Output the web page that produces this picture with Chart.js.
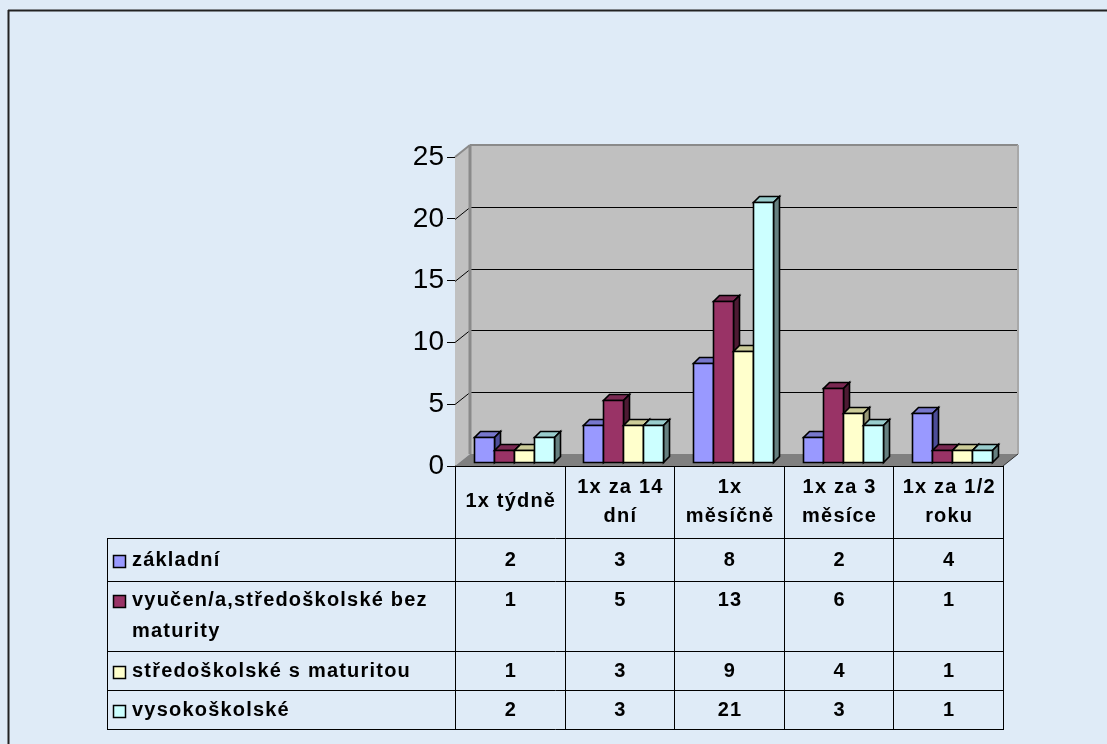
<!DOCTYPE html>
<html>
<head>
<meta charset="utf-8">
<script src="https://cdn.jsdelivr.net/npm/chart.js@4.4.1/dist/chart.umd.min.js"></script>
<style>
  html, body { margin: 0; padding: 0; background: #dfebf7; }
  #wrap { width: 1107px; height: 744px; }
</style>
</head>
<body>
<div id="wrap"><canvas id="chart" width="1107" height="744"></canvas></div>
<script>
// Data
const categories = [['1x týdně'], ['1x za 14', 'dní'], ['1x', 'měsíčně'], ['1x za 3', 'měsíce'], ['1x za 1/2', 'roku']];
const seriesNames = [['základní'], ['vyučen/a,středoškolské bez', 'maturity'], ['středoškolské s maturitou'], ['vysokoškolské']];
const zakladni = [2, 3, 8, 2, 4];
const vyucen = [1, 5, 13, 6, 1];
const stredoskolske = [1, 3, 9, 4, 1];
const vysokoskolske = [2, 3, 21, 3, 1];
const yTicks = [0, 5, 10, 15, 20, 25];

// Colours: front, top, side
const faceColors = [
  ['#9999ff', '#7777cc', '#4d4d99'],
  ['#993366', '#7a2952', '#4d1a33'],
  ['#ffffcc', '#cccc99', '#999977'],
  ['#ccffff', '#99cccc', '#668080']
];

// 3D offsets
const WALL_DX = 15, WALL_DY = -12;   // back wall
const BAR_DX = 4, BAR_DY = -4;       // plane where bars stand
const DEPTH_DX = 6, DEPTH_DY = -6;   // bar depth

// Table rows (top, bottom, first text line y)
const TABLE_LEFT = 107;
const headerBottom = 538;
const rows = [
  { top: 538, bottom: 581, y: 560 },
  { top: 581, bottom: 651, y: 600 },
  { top: 651, bottom: 690, y: 671 },
  { top: 690, bottom: 729, y: 710 }
];
const TABLE_FONT = 'bold 20px "Liberation Sans", Arial, sans-serif';

function poly(ctx, pts, fill, stroke) {
  ctx.beginPath();
  ctx.moveTo(pts[0][0], pts[0][1]);
  for (let i = 1; i < pts.length; i++) ctx.lineTo(pts[i][0], pts[i][1]);
  ctx.closePath();
  if (fill) { ctx.fillStyle = fill; ctx.fill(); }
  if (stroke) { ctx.strokeStyle = stroke; ctx.stroke(); }
}

function line(ctx, x1, y1, x2, y2, color, width) {
  ctx.beginPath();
  ctx.moveTo(x1, y1);
  ctx.lineTo(x2, y2);
  ctx.strokeStyle = color;
  ctx.lineWidth = width || 1;
  ctx.stroke();
}

const threeD = {
  id: 'threeD',
  beforeDraw(chart) {
    const ctx = chart.ctx;
    ctx.save();
    ctx.fillStyle = '#dfebf7';
    ctx.fillRect(0, 0, chart.width, chart.height);
    // outer frame
    line(ctx, 8.5, 10, 8.5, chart.height, '#222', 2);
    line(ctx, 8, 10.5, chart.width, 10.5, '#222', 2);
    ctx.restore();
  },
  beforeDatasetsDraw(chart) {
    const ctx = chart.ctx;
    const a = chart.chartArea;
    const yScale = chart.scales.y;
    const L = a.left, R = a.right, T = a.top, B = a.bottom;
    ctx.save();
    ctx.lineWidth = 1;
    // side wall
    poly(ctx, [[L, T], [L + WALL_DX, T + WALL_DY], [L + WALL_DX, B + WALL_DY], [L, B]], '#c0c0c0');
    // back wall
    poly(ctx, [[L + WALL_DX, T + WALL_DY], [R + WALL_DX, T + WALL_DY], [R + WALL_DX, B + WALL_DY], [L + WALL_DX, B + WALL_DY]], '#c0c0c0');
    // grid lines
    yTicks.forEach(v => {
      if (v === 0 || v === yTicks[yTicks.length - 1]) return;
      const y = Math.round(yScale.getPixelForValue(v)) + 0.5;
      ctx.beginPath();
      ctx.moveTo(L, y);
      ctx.lineTo(L + WALL_DX, y + WALL_DY);
      ctx.lineTo(R + WALL_DX, y + WALL_DY);
      ctx.strokeStyle = '#000';
      ctx.lineWidth = 1;
      ctx.stroke();
    });
    // wall edges
    line(ctx, L, T, L + WALL_DX, T + WALL_DY, '#8a8a8a', 2);
    line(ctx, L + WALL_DX, T + WALL_DY, R + WALL_DX, T + WALL_DY, '#8a8a8a', 2);
    line(ctx, L + WALL_DX, T + WALL_DY, L + WALL_DX, B + WALL_DY, '#8a8a8a', 3);
    line(ctx, R + WALL_DX, T + WALL_DY, R + WALL_DX, B + WALL_DY, '#a8a8a8', 2);
    // floor
    poly(ctx, [[L, B], [R, B], [R + WALL_DX, B + WALL_DY], [L + WALL_DX, B + WALL_DY]], '#808080');
    line(ctx, R, B, R + WALL_DX, B + WALL_DY, '#333', 1);
    line(ctx, L, B + 0.5, R, B + 0.5, '#000', 1);
    ctx.restore();
  },
  afterDatasetsDraw(chart) {
    const ctx = chart.ctx;
    ctx.save();
    ctx.lineWidth = 1.6;
    ctx.lineJoin = 'miter';
    chart.data.datasets.forEach((ds, i) => {
      const meta = chart.getDatasetMeta(i);
      const c = faceColors[i];
      meta.data.forEach(bar => {
        const p = bar.getProps(['x', 'y', 'base', 'width'], true);
        const l = Math.round(p.x - p.width / 2 + BAR_DX) + 0.5;
        const r = Math.round(p.x + p.width / 2 + BAR_DX) + 0.5;
        const t = Math.round(p.y + BAR_DY) + 0.5;
        const b = Math.round(p.base + BAR_DY) + 0.5;
        // top
        poly(ctx, [[l, t], [r, t], [r + DEPTH_DX, t + DEPTH_DY], [l + DEPTH_DX, t + DEPTH_DY]], c[1], '#000');
        // side
        poly(ctx, [[r, t], [r + DEPTH_DX, t + DEPTH_DY], [r + DEPTH_DX, b + DEPTH_DY], [r, b]], c[2], '#000');
        // front
        poly(ctx, [[l, t], [r, t], [r, b], [l, b]], c[0], '#000');
      });
    });
    ctx.restore();
  },
  afterDraw(chart) {
    const ctx = chart.ctx;
    const a = chart.chartArea;
    const xScale = chart.scales.x;
    const L = a.left, R = a.right, B = a.bottom;
    const colW = (R - L) / categories.length;
    const last = rows[rows.length - 1].bottom;
    ctx.save();
    // grid of the data table
    line(ctx, L + 0.5, B, L + 0.5, last, '#000', 1);
    for (let i = 1; i <= categories.length; i++) {
      const x = Math.round(L + colW * i) + 0.5;
      line(ctx, x, B, x, last, '#000', 1);
    }
    rows.forEach(row => line(ctx, TABLE_LEFT, row.top + 0.5, R + 1, row.top + 0.5, '#000', 1));
    line(ctx, TABLE_LEFT, last + 0.5, R + 1, last + 0.5, '#000', 1);
    line(ctx, TABLE_LEFT + 0.5, headerBottom, TABLE_LEFT + 0.5, last, '#000', 1);

    ctx.font = TABLE_FONT;
    ctx.letterSpacing = '1.2px';
    ctx.fillStyle = '#000';
    ctx.textBaseline = 'middle';
    // header
    ctx.textAlign = 'center';
    categories.forEach((lines, i) => {
      const cx = xScale.getPixelForValue(i) + 1;
      if (lines.length === 1) {
        ctx.fillText(lines[0], cx, 501);
      } else {
        ctx.fillText(lines[0], cx, 487);
        ctx.fillText(lines[1], cx, 516);
      }
    });
    // rows
    chart.data.datasets.forEach((ds, i) => {
      const row = rows[i];
      // legend key
      ctx.fillStyle = faceColors[i][0];
      ctx.fillRect(113, row.y - 5, 12, 12);
      ctx.strokeStyle = '#000';
      ctx.lineWidth = 1.5;
      ctx.strokeRect(113.5, row.y - 4.5, 12, 12);
      ctx.fillStyle = '#000';
      ctx.textAlign = 'left';
      seriesNames[i].forEach((txt, k) => ctx.fillText(txt, 132, row.y + k * 31));
      ctx.textAlign = 'center';
      ds.data.forEach((v, j) => {
        ctx.fillText(String(v), xScale.getPixelForValue(j) + 1, row.y);
      });
    });
    ctx.restore();
  }
};

const ctx = document.getElementById('chart').getContext('2d');
const chart = new Chart(ctx, {
  type: 'bar',
  data: {
    labels: categories.map(c => c.join(' ')),
    datasets: [zakladni, vyucen, stredoskolske, vysokoskolske].map((data, i) => ({
      label: seriesNames[i].join(' '),
      data: data,
      backgroundColor: 'rgba(0,0,0,0)',
      borderWidth: 0,
      categoryPercentage: 0.73,
      barPercentage: 1.0
    }))
  },
  options: {
    responsive: false,
    animation: false,
    layout: { padding: { top: 157, right: 104, bottom: 278, left: 355 } },
    plugins: {
      legend: { display: false },
      tooltip: { enabled: false }
    },
    scales: {
      x: { display: false },
      y: {
        min: 0,
        max: 25,
        afterFit: scale => { scale.width = 100; },
        afterBuildTicks: scale => { scale.ticks = yTicks.map(v => ({ value: v })); },
        ticks: {
          color: '#000',
          padding: 3,
          font: { family: '"Liberation Sans", Arial, sans-serif', size: 28 }
        },
        grid: {
          drawOnChartArea: false,
          drawTicks: true,
          tickLength: 8,
          tickColor: '#000',
          color: '#000'
        },
        border: { display: true, color: '#000', width: 1 }
      }
    }
  },
  plugins: [threeD]
});
</script>
</body>
</html>
